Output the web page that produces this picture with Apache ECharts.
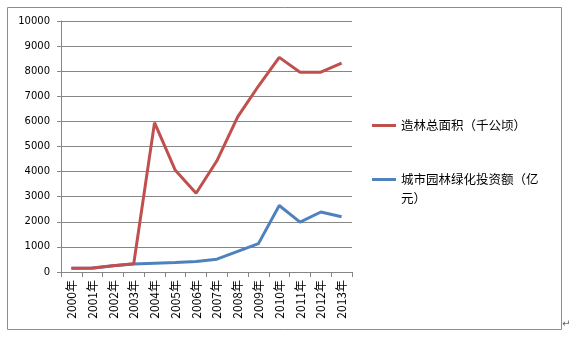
<!DOCTYPE html>
<html><head><meta charset="utf-8">
<script src="https://cdn.jsdelivr.net/npm/echarts@6/dist/echarts.min.js"></script>
<style>html,body{margin:0;padding:0;background:#fff}#c{width:572px;height:337px}</style>
</head><body><div id="c"></div>
<script>
const years = ['2000年','2001年','2002年','2003年','2004年','2005年','2006年','2007年','2008年','2009年','2010年','2011年','2012年','2013年'];
const afforest = [150,160,250,330,5950,4050,3140,4430,6180,7410,8550,7960,7960,8320];
const greening = [150,150,250,320,350,380,420,510,820,1130,2650,1990,2390,2200];
const seriesNames = ['造林总面积（千公顷）','城市园林绿化投资额（亿元）'];
const legendLabels = ['造林总面积（千公顷）',' \n城市园林绿化投资额（亿\n元）'];
const yTicks = {min:0,max:10000,interval:1000};

const chart = echarts.init(document.getElementById('c'));
const numFont = 'DejaVu Sans';
const cjk = '"Noto Sans CJK SC", "DejaVu Sans"';
chart.setOption({
  animation:false,
  grid:{left:61,top:21,right:220,bottom:65},
  graphic:[
    {type:'rect',shape:{x:7.5,y:7.5,width:554,height:322},style:{fill:'none',stroke:'#8c8c8c',lineWidth:1},z:-1},
    {type:'text',left:562,top:318,style:{text:'↵',fill:'#666',font:'10px '+cjk}}
  ],
  legend:[
    {data:[seriesNames[0]],orient:'vertical',left:372,top:116,padding:0,itemWidth:24,itemHeight:3,icon:'rect',
     formatter:()=>legendLabels[0],
     textStyle:{fontFamily:cjk,fontSize:12.5,color:'#000',lineHeight:19}},
    {data:[seriesNames[1]],orient:'vertical',left:372,top:151,padding:0,itemWidth:24,itemHeight:3,icon:'rect',
     formatter:()=>legendLabels[1],
     textStyle:{fontFamily:cjk,fontSize:12.5,color:'#000',lineHeight:19}}
  ],
  xAxis:{type:'category',data:years,boundaryGap:true,
    axisLine:{lineStyle:{color:'#868686'}},
    axisTick:{show:true,length:5,lineStyle:{color:'#868686'}},
    axisLabel:{rotate:90,interval:0,margin:8,fontFamily:cjk,fontSize:12,color:'#000'}},
  yAxis:{type:'value',min:yTicks.min,max:yTicks.max,interval:yTicks.interval,
    axisLine:{show:true,lineStyle:{color:'#868686'}},
    axisTick:{show:true,length:4,lineStyle:{color:'#868686'}},
    splitLine:{lineStyle:{color:'#868686',width:1}},
    axisLabel:{fontFamily:numFont,fontSize:10,color:'#000',margin:11,formatter:v=>String(v)}},
  series:[
    {name:seriesNames[0],type:'line',data:afforest,symbol:'none',z:3,
     lineStyle:{color:'#C0504D',width:3},itemStyle:{color:'#C0504D'}},
    {name:seriesNames[1],type:'line',data:greening,symbol:'none',z:2,
     lineStyle:{color:'#4F81BD',width:3},itemStyle:{color:'#4F81BD'}}
  ]
});
</script></body></html>
